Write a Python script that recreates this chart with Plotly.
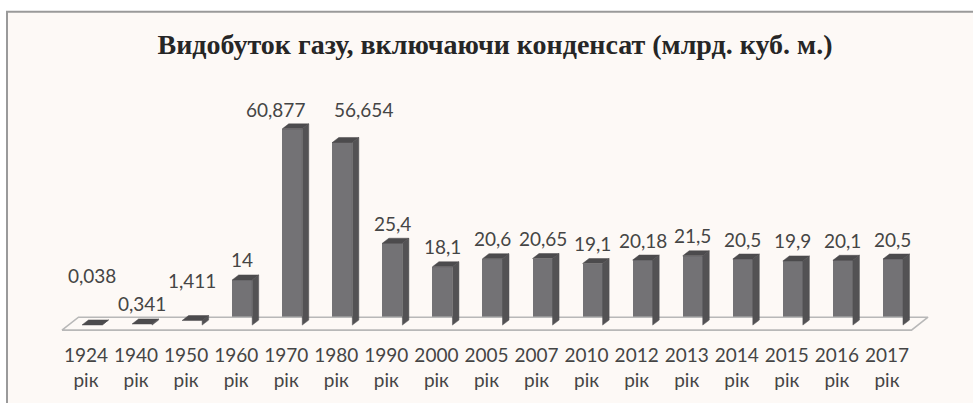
import plotly.graph_objects as go

# ---- data ----
years = ["1924", "1940", "1950", "1960", "1970", "1980", "1990", "2000", "2005",
         "2007", "2010", "2012", "2013", "2014", "2015", "2016", "2017"]
values = [0.038, 0.341, 1.411, 14, 60.877, 56.654, 25.4, 18.1, 20.6,
          20.65, 19.1, 20.18, 21.5, 20.5, 19.9, 20.1, 20.5]
value_labels = ["0,038", "0,341", "1,411", "14", "60,877", "56,654", "25,4", "18,1", "20,6",
                "20,65", "19,1", "20,18", "21,5", "20,5", "19,9", "20,1", "20,5"]
tick_labels = [f"{y}<br>рік" for y in years]
title_text = "Видобуток газу, включаючи конденсат (млрд. куб. м.)"

# ---- style ----
label_xshift = [0, 0, 0, 0, -17, 21, 0, 0, 0, 0, 0, 0, 0, 0, 0, 0, 0]
label_yshift = [49, 20, 40, 20, 19, 33, 20, 20, 20, 20, 20, 20, 20, 20, 20, 20, 20]
FRONT = "#737275"
SIDE = "#535254"
TOP = "#4c4b4d"
BG = "#fdf9f6"
TXT = "#454545"
FONT = "Lato"
FS = 19

n = len(years)
bar_w = 0.4
bar_off = -0.08           # bar shifted slightly right of tick
dx, dy = 0.13, 1.55       # 3D depth (data units)

# plot area geometry (px)
L, R, T, B = 40, 940, 95, 337
W, H = 973, 403
x_range = [(L - 86) / 50.06, (R - 86) / 50.06]
y_range = [-(B - 327) / 3.25, (327 - T) / 3.25]

fig = go.Figure()

# floor
fx0, fx1 = -0.48, n - 0.51
f_front, f_back, f_dx = -1.55, 2.45, 0.33
fig.add_trace(go.Scatter(
    x=[fx0, fx1, fx1 + f_dx, fx0 + f_dx, fx0],
    y=[f_front, f_front, f_back, f_back, f_front],
    mode="lines", fill="toself", fillcolor=BG,
    line=dict(color="#b8b8b8", width=1.6), hoverinfo="skip", showlegend=False))

# side and top faces
sx, sy, tx, ty = [], [], [], []
for i, v in enumerate(values):
    xl = i + bar_off
    xr = xl + bar_w
    sx += [xr, xr + dx, xr + dx, xr, xr, None]
    sy += [0, dy, v + dy, v, 0, None]
    tx += [xl, xl + dx, xr + dx, xr, xl, None]
    ty += [v, v + dy, v + dy, v, v, None]
fig.add_trace(go.Scatter(x=sx, y=sy, mode="lines", fill="toself", fillcolor=SIDE,
                         line=dict(color=SIDE, width=0.5), hoverinfo="skip", showlegend=False))
fig.add_trace(go.Scatter(x=tx, y=ty, mode="lines", fill="toself", fillcolor=TOP,
                         line=dict(color=TOP, width=0.5), hoverinfo="skip", showlegend=False))

# front faces
fig.add_trace(go.Bar(x=list(range(n)), y=values, width=bar_w, offset=bar_off,
                     marker=dict(color=FRONT, line=dict(width=0)), showlegend=False))

# value labels
for i, (v, t) in enumerate(zip(values, value_labels)):
    fig.add_annotation(x=i + bar_off + bar_w / 2, y=v, text=t, showarrow=False,
                       xshift=label_xshift[i], yshift=label_yshift[i],
                       yanchor="middle", font=dict(family=FONT, size=FS, color=TXT))

# frame
pw, ph = R - L, B - T
fig.add_shape(type="rect", xref="paper", yref="paper",
              x0=(7 - L) / pw, x1=(W + 20 - L) / pw,
              y0=(B - (H + 20)) / ph, y1=(B - 11) / ph,
              fillcolor=BG, line=dict(color="#9a9a9a", width=2), layer="below")

fig.update_layout(
    width=W, height=H,
    margin=dict(l=L, r=W - R, t=T, b=H - B),
    paper_bgcolor="white", plot_bgcolor="rgba(0,0,0,0)",
    title=dict(text=title_text, x=495 / W, xanchor="center", y=1 - 44 / H, yanchor="middle",
               xref="container", yref="container",
               font=dict(family="Liberation Serif", size=28, color="#262626", weight="bold")),
    xaxis=dict(range=x_range, tickvals=list(range(n)), ticktext=tick_labels,
               showgrid=False, zeroline=False, showline=False, ticks="",
               tickfont=dict(family=FONT, size=FS, color=TXT), ticklabelstandoff=7),
    yaxis=dict(range=y_range, visible=False, showgrid=False, zeroline=False),
    bargap=0,
)

fig.write_html("out.html", config={"displayModeBar": False},
               post_script="document.body.style.margin='0';")
